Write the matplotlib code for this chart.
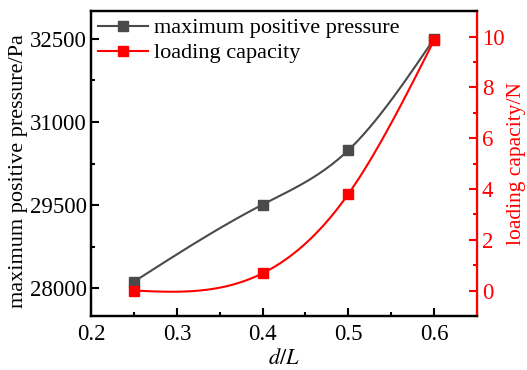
import numpy as np
import matplotlib
matplotlib.use("Agg")
import matplotlib.pyplot as plt
from matplotlib.ticker import MultipleLocator, FixedLocator

plt.rcParams["font.family"] = ["Liberation Serif", "DejaVu Serif"]
plt.rcParams["mathtext.fontset"] = "stix"

d_L = [0.25, 0.40, 0.50, 0.60]
max_pressure = [28120, 29510, 30490, 32500]
loading_capacity = [0.0, 0.68, 3.8, 9.85]

p_ticks = [28000, 29500, 31000, 32500]
p_minor = [28750, 30250, 31750]

GREY = "#4a4a4a"
RED = "#ff0000"


def natural_spline(x, y, n=200):
    # natural cubic spline, only used to draw a smooth line through the points
    x = np.asarray(x, float)
    y = np.asarray(y, float)
    k = len(x)
    h = np.diff(x)
    A = np.zeros((k, k))
    b = np.zeros(k)
    A[0, 0] = A[-1, -1] = 1
    for i in range(1, k - 1):
        A[i, i - 1] = h[i - 1]
        A[i, i] = 2 * (h[i - 1] + h[i])
        A[i, i + 1] = h[i]
        b[i] = 3 * ((y[i + 1] - y[i]) / h[i] - (y[i] - y[i - 1]) / h[i - 1])
    c = np.linalg.solve(A, b)
    xs = np.linspace(x[0], x[-1], n)
    idx = np.clip(np.searchsorted(x, xs) - 1, 0, k - 2)
    dx = xs - x[idx]
    bb = (y[idx + 1] - y[idx]) / h[idx] - h[idx] * (2 * c[idx] + c[idx + 1]) / 3
    dd = (c[idx + 1] - c[idx]) / (3 * h[idx])
    ys = y[idx] + bb * dx + c[idx] * dx ** 2 + dd * dx ** 3
    return xs, ys


fig = plt.figure(figsize=(5.27, 3.70), dpi=100)
ax = fig.add_axes([0.173, 0.146, 0.732, 0.824])
ax2 = ax.twinx()

xs, ys = natural_spline(d_L, max_pressure)
ax.plot(xs, ys, color=GREY, lw=1.5)
ax.plot(d_L, max_pressure, "s", color=GREY, ms=6.5, ls="none")
h1, = ax.plot([], [], "-s", color=GREY, lw=1.5, ms=6.5, label="maximum positive pressure")

xs2, ys2 = natural_spline(d_L, loading_capacity)
ax2.plot(xs2, ys2, color=RED, lw=1.5)
ax2.plot(d_L, loading_capacity, "s", color=RED, ms=6.5, ls="none")
h2, = ax2.plot([], [], "-s", color=RED, lw=1.5, ms=6.5, label="loading capacity")

ax.set_xlim(0.2, 0.65)
ax.set_ylim(27500, 33000)
ax2.set_ylim(-1, 11)

ax.xaxis.set_major_locator(MultipleLocator(0.1))
ax.xaxis.set_minor_locator(MultipleLocator(0.05))
ax.yaxis.set_major_locator(FixedLocator(p_ticks))
ax.yaxis.set_minor_locator(FixedLocator(p_minor))
ax2.yaxis.set_major_locator(MultipleLocator(2))
ax2.yaxis.set_minor_locator(MultipleLocator(1))

ax.tick_params(which="both", direction="in", labelsize=16.5, width=1.5)
ax.tick_params(which="major", length=6)
ax.tick_params(which="minor", length=3)
ax.tick_params(axis="y", right=False, pad=3)
ax.tick_params(axis="x", pad=6)
ax2.tick_params(which="both", direction="in", labelsize=16.5, width=1.5,
                colors=RED)
ax2.tick_params(which="major", length=6)
ax2.tick_params(which="minor", length=3)

for s in ["left", "bottom", "top"]:
    ax.spines[s].set_linewidth(1.6)
ax2.spines["right"].set_color(RED)
ax2.spines["right"].set_linewidth(1.6)
for s in ["left", "bottom", "top"]:
    ax2.spines[s].set_linewidth(1.6)

ax.set_xlabel(r"$d/L$", fontsize=16, labelpad=3)
ax.set_ylabel("maximum positive pressure/Pa", fontsize=16)
ax.yaxis.set_label_coords(-0.165, 0.475)
ax2.set_ylabel("loading capacity/N", fontsize=15.5, color=RED, labelpad=2)

ax.legend(handles=[h1, h2], loc="upper left", frameon=False, fontsize=16,
          handlelength=2.25, borderaxespad=0.1, borderpad=0.2,
          labelspacing=0.2, handletextpad=0.27)

fig.savefig("out.png", dpi=100)
